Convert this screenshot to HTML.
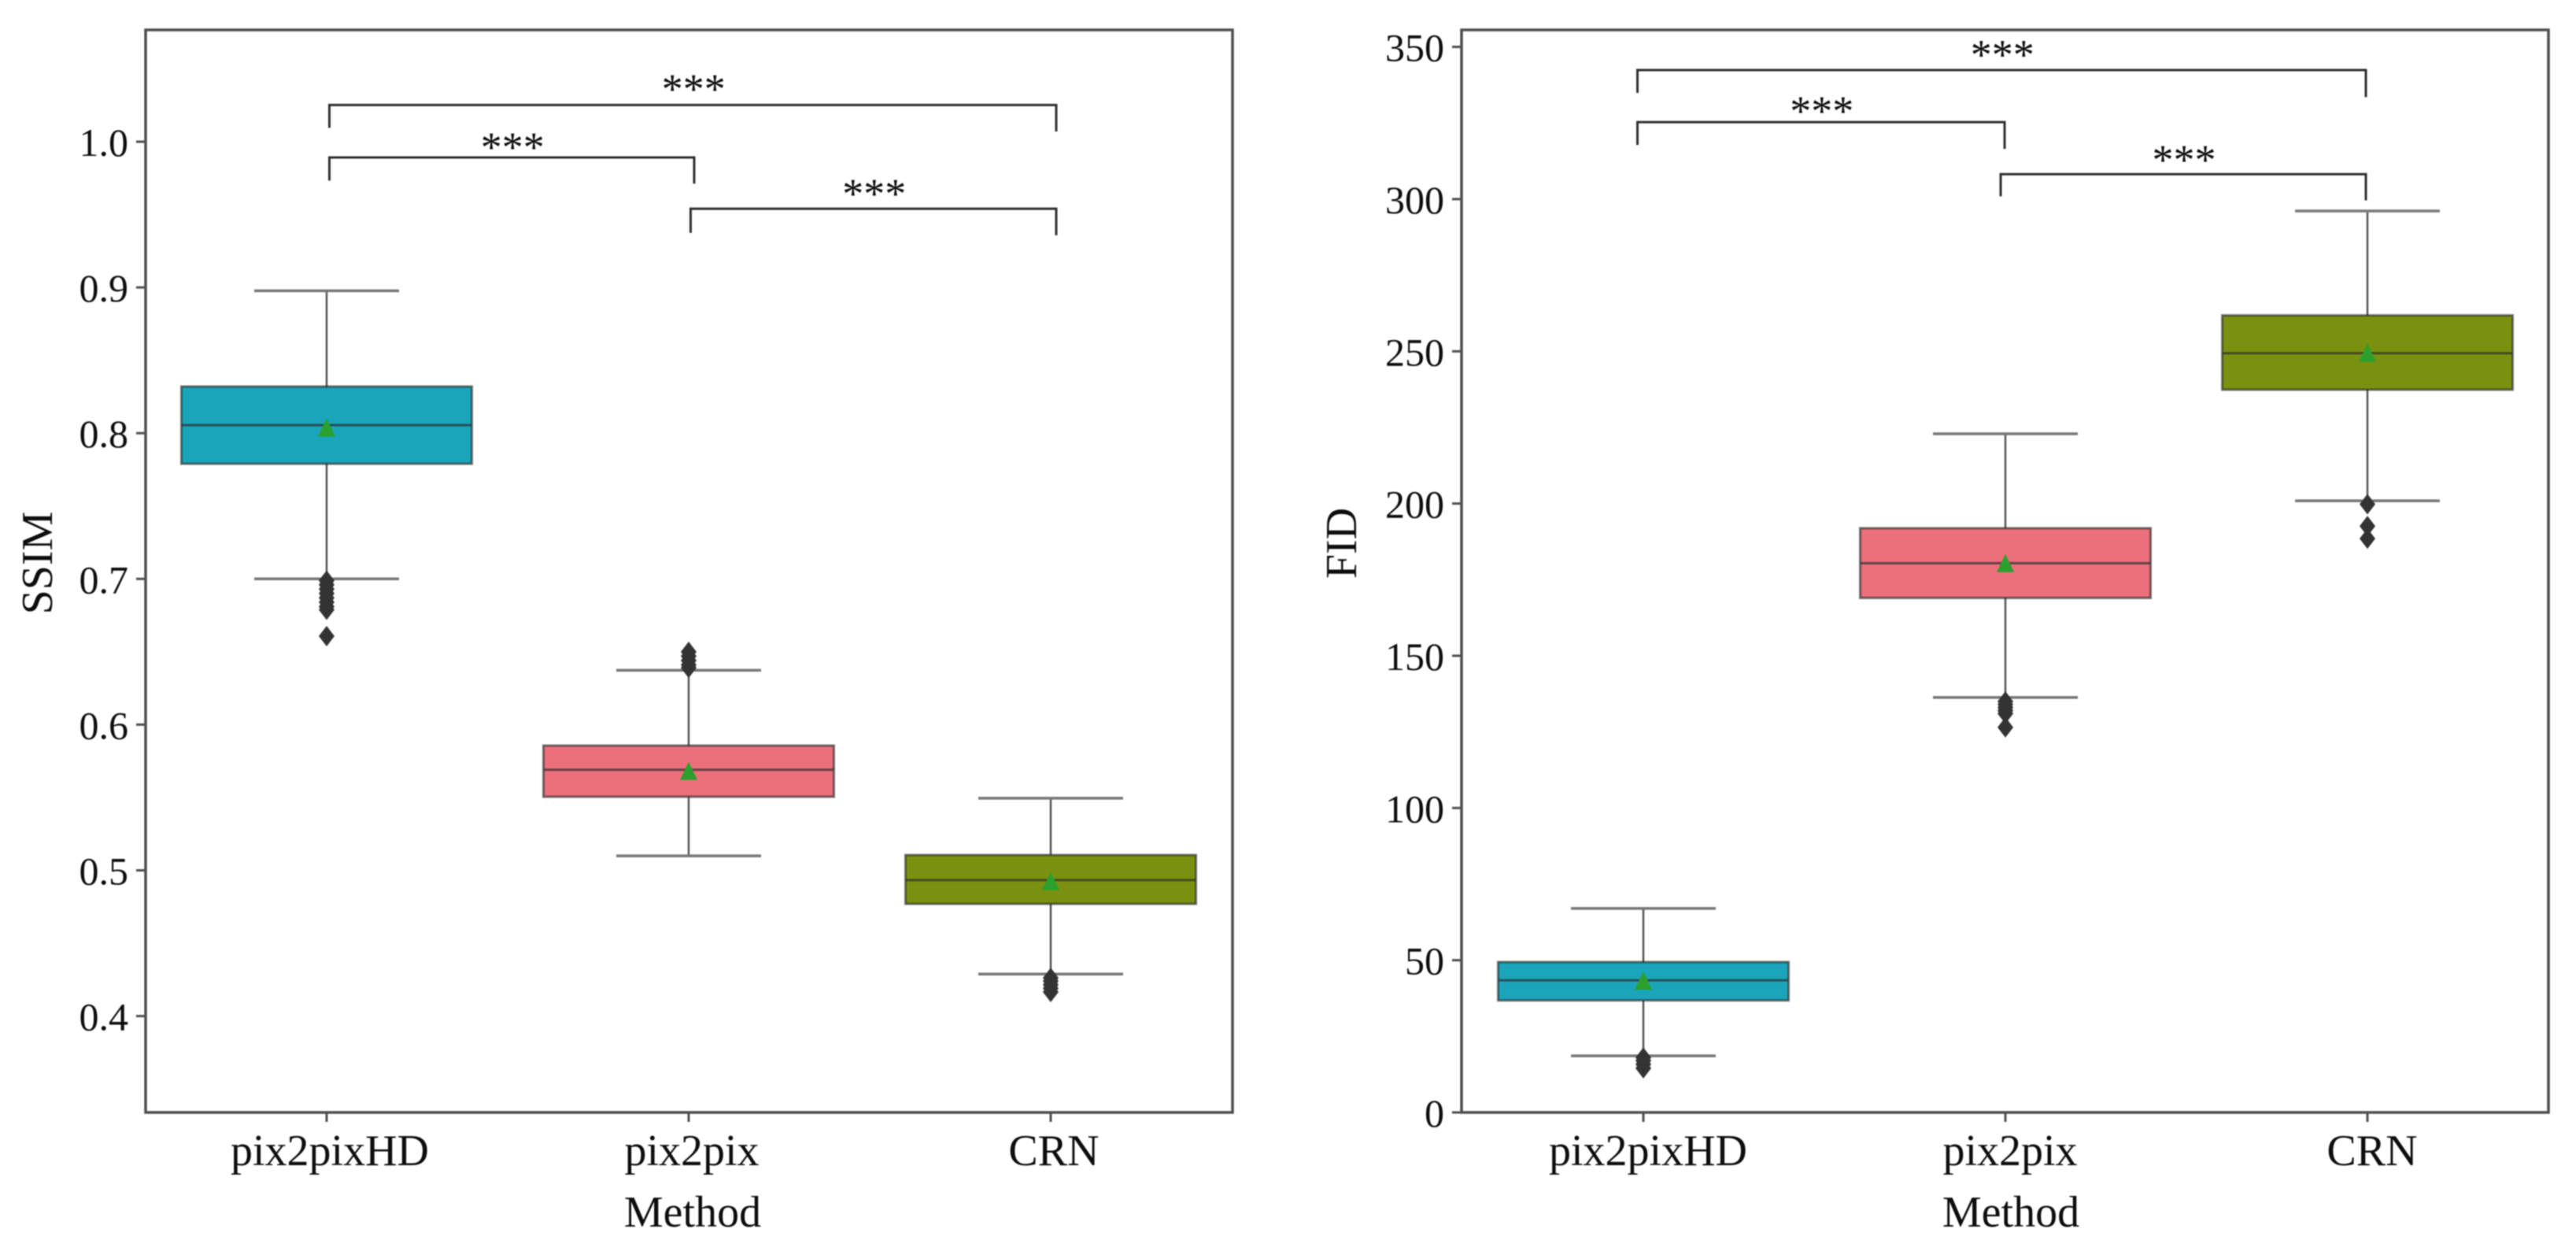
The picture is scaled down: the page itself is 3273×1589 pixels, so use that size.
<!DOCTYPE html>
<html lang="en">
<head>
<meta charset="utf-8">
<title>SSIM and FID box plots</title>
<style>
html,body{margin:0;padding:0;background:#fff;}
svg{display:block;filter:blur(0.7px);}
text{font-family:"Liberation Serif",serif;fill:#0d0d0d;}
</style>
</head>
<body>
<svg id="chart" xmlns="http://www.w3.org/2000/svg" width="3273" height="1589" viewBox="0 0 3273 1589">
<rect x="0" y="0" width="3273" height="1589" fill="#ffffff"/>
<g id="ssim-panel"></g>
<g id="fid-panel"></g>
</svg>
<script>
// Shared categories
const categories = ['pix2pixHD', 'pix2pix', 'CRN'];
const boxColors = ['#1aa5bb', '#ec6f7c', '#7a9110'];

// SSIM values
const ssimTicks = [0.4, 0.5, 0.6, 0.7, 0.8, 0.9, 1.0];
const ssimTickLabels = ['0.4', '0.5', '0.6', '0.7', '0.8', '0.9', '1.0'];
const ssimQ1 = [0.779, 0.5505, 0.477];
const ssimMedian = [0.8055, 0.569, 0.4933];
const ssimQ3 = [0.832, 0.5856, 0.5105];
const ssimMean = [0.8036, 0.568, 0.4923];
const ssimWhiskerLow = [0.7, 0.5099, 0.4288];
const ssimWhiskerHigh = [0.8977, 0.6373, 0.5495];
const ssimOutliers = [
  [0.6988, 0.696, 0.693, 0.69, 0.687, 0.684, 0.681, 0.6788, 0.6607],
  [0.6499, 0.647, 0.644, 0.641, 0.639],
  [0.4262, 0.424, 0.4215, 0.419, 0.4165]
];
const ssimBracketFrom = [0, 0, 1];
const ssimBracketTo = [2, 1, 2];
const ssimBracketLevel = [1.0252, 0.9892, 0.954];
const ssimBracketFromEnd = [1.0095, 0.9733, 0.9375];
const ssimBracketToEnd = [1.007, 0.9712, 0.9358];
const ssimStarLevel = [1.0395, 0.9995, 0.9675];
const ssimStars = ['***', '***', '***'];

// FID values
const fidTicks = [0, 50, 100, 150, 200, 250, 300, 350];
const fidTickLabels = ['0', '50', '100', '150', '200', '250', '300', '350'];
const fidQ1 = [36.8, 169, 237.4];
const fidMedian = [43.4, 180.4, 249.4];
const fidQ3 = [49.4, 191.9, 261.8];
const fidMean = [43.2, 180.3, 249.4];
const fidWhiskerLow = [18.6, 136.3, 200.9];
const fidWhiskerHigh = [67, 222.9, 296.1];
const fidOutliers = [
  [18, 17, 15.8, 14.5],
  [135, 134, 133, 132, 131, 126.5],
  [199.8, 192.6, 188.5]
];
const fidBracketFrom = [0, 0, 1];
const fidBracketTo = [2, 1, 2];
const fidBracketLevel = [342.4, 325.3, 308.2];
const fidBracketFromEnd = [334.9, 317.8, 300.9];
const fidBracketToEnd = [333.5, 316.5, 299.6];
const fidStarLevel = [349, 330.5, 314.5];
const fidStars = ['***', '***', '***'];

const SVG_NS = 'http://www.w3.org/2000/svg';

function line(parent, x1, y1, x2, y2, color, width) {
  const l = document.createElementNS(SVG_NS, 'line');
  l.setAttribute('x1', x1);
  l.setAttribute('y1', y1);
  l.setAttribute('x2', x2);
  l.setAttribute('y2', y2);
  l.setAttribute('stroke', color);
  l.setAttribute('stroke-width', width);
  parent.appendChild(l);
  return l;
}

function label(parent, x, y, str, size, anchor) {
  const t = document.createElementNS(SVG_NS, 'text');
  t.setAttribute('x', x);
  t.setAttribute('y', y);
  t.setAttribute('font-size', size);
  t.setAttribute('text-anchor', anchor);
  t.textContent = str;
  parent.appendChild(t);
  return t;
}

function drawPanel(root, cfg) {
  const xScale = (i) => cfg.x0 + cfg.step * i;
  const yScale = (v) => cfg.yRef + (cfg.vRef - v) * cfg.pxPerUnit;

  // Frame
  const frame = document.createElementNS(SVG_NS, 'rect');
  frame.setAttribute('x', cfg.left);
  frame.setAttribute('y', cfg.top);
  frame.setAttribute('width', cfg.right - cfg.left);
  frame.setAttribute('height', cfg.bottom - cfg.top);
  frame.setAttribute('fill', 'none');
  frame.setAttribute('stroke', '#4f4f4f');
  frame.setAttribute('stroke-width', 3.5);
  
  
  root.appendChild(frame);

  // Y axis
  cfg.ticks.forEach((v, i) => {
    const mark = line(root, cfg.left - 12, yScale(v), cfg.left, yScale(v), '#4f4f4f', 3);
    
    
    const text = label(root, cfg.left - 22, yScale(v) + 18, cfg.tickLabels[i], 50, 'end');
    
    
  });

  // X axis
  categories.forEach((c, i) => {
    const mark = line(root, xScale(i), cfg.bottom, xScale(i), cfg.bottom + 12, '#4f4f4f', 3);
    
    
    const text = label(root, xScale(i) + cfg.labelShift, 1480, c, 56, 'middle');
    
    
  });

  const xTitle = label(root, cfg.xTitleX, 1558, 'Method', 56, 'middle');
  
  

  const yTitle = label(root, 0, 0, cfg.yTitle, 56, 'middle');
  yTitle.setAttribute('transform', 'translate(' + cfg.yTitleX + ',' + cfg.yTitleY + ') rotate(-90)');
  
  

  // Boxes
  categories.forEach((c, i) => {
    const cx = xScale(i);
    const g = document.createElementNS(SVG_NS, 'g');
    
    
    root.appendChild(g);

    const wLow = line(g, cx, yScale(cfg.q1[i]), cx, yScale(cfg.wLow[i]), '#555555', 2.5);
    
    
    const wHigh = line(g, cx, yScale(cfg.q3[i]), cx, yScale(cfg.wHigh[i]), '#555555', 2.5);
    
    
    const capLow = line(g, cx - 92, yScale(cfg.wLow[i]), cx + 92, yScale(cfg.wLow[i]), '#777777', 3.5);
    
    
    const capHigh = line(g, cx - 92, yScale(cfg.wHigh[i]), cx + 92, yScale(cfg.wHigh[i]), '#777777', 3.5);
    
    

    const box = document.createElementNS(SVG_NS, 'rect');
    box.setAttribute('x', cx - 184.5);
    box.setAttribute('y', yScale(cfg.q3[i]));
    box.setAttribute('width', 369);
    box.setAttribute('height', yScale(cfg.q1[i]) - yScale(cfg.q3[i]));
    box.setAttribute('fill', boxColors[i]);
    box.setAttribute('stroke', 'rgba(45,45,45,0.65)');
    box.setAttribute('stroke-width', 3);
    
    
    g.appendChild(box);

    const med = line(g, cx - 184.5, yScale(cfg.median[i]), cx + 184.5, yScale(cfg.median[i]), 'rgba(45,45,45,0.7)', 3);
    
    

    cfg.outliers[i].forEach((v, k) => {
      const y = yScale(v);
      const d = document.createElementNS(SVG_NS, 'polygon');
      d.setAttribute('points', [cx, y - 13, cx + 10, y, cx, y + 13, cx - 10, y].join(' '));
      d.setAttribute('fill', '#333333');
      
      
      g.appendChild(d);
    });

    const my = yScale(cfg.mean[i]);
    const tri = document.createElementNS(SVG_NS, 'polygon');
    tri.setAttribute('points', [cx, my - 12, cx + 11, my + 11, cx - 11, my + 11].join(' '));
    tri.setAttribute('fill', '#2ca02c');
    
    
    g.appendChild(tri);
  });

  // Significance brackets
  cfg.bFrom.forEach((from, i) => {
    const to = cfg.bTo[i];
    const xa = xScale(from) + (from === 0 ? cfg.bShiftFirst : cfg.bShiftMid);
    const xb = xScale(to) + (to === 1 ? cfg.bShiftMidEnd : cfg.bShiftLast);
    const yLevel = yScale(cfg.bLevel[i]);
    const path = document.createElementNS(SVG_NS, 'path');
    path.setAttribute('d', 'M' + xa + ' ' + yScale(cfg.bFromEnd[i]) + ' V' + yLevel + ' H' + xb + ' V' + yScale(cfg.bToEnd[i]));
    path.setAttribute('fill', 'none');
    path.setAttribute('stroke', '#2f2f2f');
    path.setAttribute('stroke-width', 3);
    
    
    root.appendChild(path);

    const stars = label(root, (xa + xb) / 2 + 1, yScale(cfg.starLevel[i]) + 24, cfg.stars[i], 54, 'middle');
    
    
  });
}

drawPanel(document.getElementById('ssim-panel'), {
  prefix: 'ssim',
  left: 185, right: 1566, top: 38, bottom: 1413,
  x0: 415, step: 460, labelShift: 4,
  yRef: 180, vRef: 1, pxPerUnit: 1851,
  ticks: ssimTicks, tickLabels: ssimTickLabels,
  yTitle: 'SSIM', yTitleX: 66, yTitleY: 715, xTitleX: 880,
  q1: ssimQ1, median: ssimMedian, q3: ssimQ3, mean: ssimMean,
  wLow: ssimWhiskerLow, wHigh: ssimWhiskerHigh, outliers: ssimOutliers,
  bFrom: ssimBracketFrom, bTo: ssimBracketTo, bLevel: ssimBracketLevel,
  bFromEnd: ssimBracketFromEnd, bToEnd: ssimBracketToEnd,
  starLevel: ssimStarLevel, stars: ssimStars,
  bShiftFirst: 3.5, bShiftMid: 2.5, bShiftMidEnd: 7, bShiftLast: 7
});

drawPanel(document.getElementById('fid-panel'), {
  prefix: 'fid',
  left: 1857, right: 3238, top: 38, bottom: 1413,
  x0: 2088, step: 460, labelShift: 6,
  yRef: 1413, vRef: 0, pxPerUnit: 3.867,
  ticks: fidTicks, tickLabels: fidTickLabels,
  yTitle: 'FID', yTitleX: 1723, yTitleY: 690, xTitleX: 2555,
  q1: fidQ1, median: fidMedian, q3: fidQ3, mean: fidMean,
  wLow: fidWhiskerLow, wHigh: fidWhiskerHigh, outliers: fidOutliers,
  bFrom: fidBracketFrom, bTo: fidBracketTo, bLevel: fidBracketLevel,
  bFromEnd: fidBracketFromEnd, bToEnd: fidBracketToEnd,
  starLevel: fidStarLevel, stars: fidStars,
  bShiftFirst: -7.5, bShiftMid: -6, bShiftMidEnd: -1, bShiftLast: -2
});
</script>
</body>
</html>
